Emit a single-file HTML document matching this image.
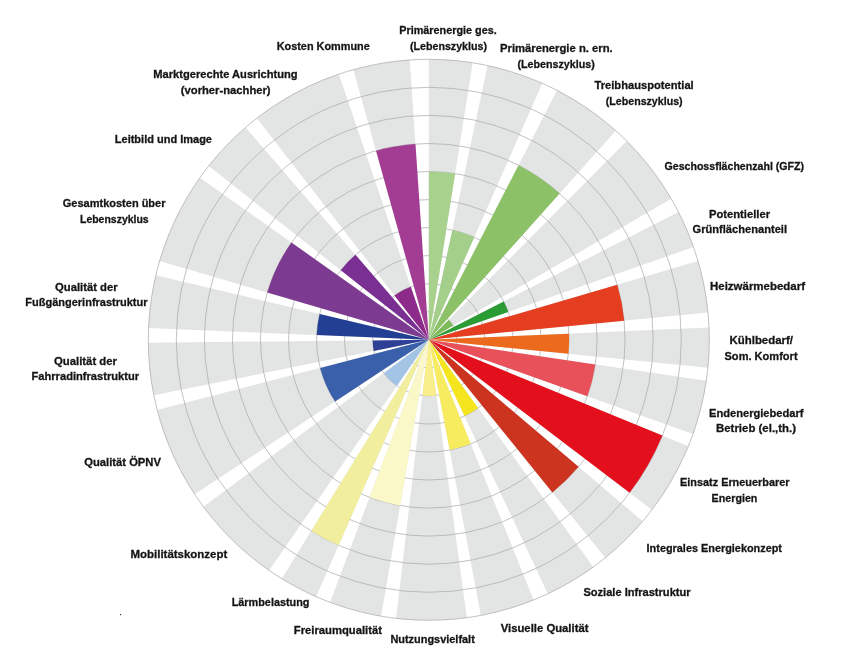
<!DOCTYPE html>
<html><head><meta charset="utf-8"><title>Chart</title>
<style>html,body{margin:0;padding:0;background:#fff;}body{width:851px;height:665px;overflow:hidden;}svg{display:block;}text{font-family:"Liberation Sans",sans-serif;font-weight:bold;font-size:11.6px;fill:#141414;stroke:#141414;stroke-width:0.3px;}</style></head><body>
<svg width="851" height="665" viewBox="0 0 851 665">
<rect width="851" height="665" fill="#fff"/>
<g fill="#e3e4e4">
<path d="M428.80,339.80L428.80,59.30A280.50,280.50 0 0 1 472.68,62.75Z"/>
<path d="M428.80,339.80L487.60,65.53A280.50,280.50 0 0 1 542.44,83.35Z"/>
<path d="M428.80,339.80L557.02,90.32A280.50,280.50 0 0 1 615.76,130.69Z"/>
<path d="M428.80,339.80L626.80,141.11A280.50,280.50 0 0 1 671.23,198.70Z"/>
<path d="M428.80,339.80L678.50,212.02A280.50,280.50 0 0 1 693.54,247.09Z"/>
<path d="M428.80,339.80L698.03,261.07A280.50,280.50 0 0 1 707.96,312.43Z"/>
<path d="M428.80,339.80L709.03,327.56A280.50,280.50 0 0 1 707.91,367.66Z"/>
<path d="M428.80,339.80L706.29,380.78A280.50,280.50 0 0 1 693.05,433.89Z"/>
<path d="M428.80,339.80L688.32,446.24A280.50,280.50 0 0 1 651.93,509.78Z"/>
<path d="M428.80,339.80L642.73,521.22A280.50,280.50 0 0 1 605.32,557.79Z"/>
<path d="M428.80,339.80L593.28,567.02A280.50,280.50 0 0 1 547.79,593.81Z"/>
<path d="M428.80,339.80L533.65,599.97A280.50,280.50 0 0 1 480.88,615.42Z"/>
<path d="M428.80,339.80L466.87,617.70A280.50,280.50 0 0 1 396.07,618.38Z"/>
<path d="M428.80,339.80L381.06,616.21A280.50,280.50 0 0 1 330.11,602.36Z"/>
<path d="M428.80,339.80L316.05,596.64A280.50,280.50 0 0 1 281.82,578.71Z"/>
<path d="M428.80,339.80L269.12,570.41A280.50,280.50 0 0 1 203.32,506.65Z"/>
<path d="M428.80,339.80L194.63,494.21A280.50,280.50 0 0 1 157.23,410.03Z"/>
<path d="M428.80,339.80L153.83,395.24A280.50,280.50 0 0 1 148.32,342.74Z"/>
<path d="M428.80,339.80L148.55,328.05A280.50,280.50 0 0 1 155.82,275.27Z"/>
<path d="M428.80,339.80L159.57,261.07A280.50,280.50 0 0 1 199.87,177.71Z"/>
<path d="M428.80,339.80L208.67,165.95A280.50,280.50 0 0 1 245.52,127.46Z"/>
<path d="M428.80,339.80L256.88,118.16A280.50,280.50 0 0 1 338.87,74.11Z"/>
<path d="M428.80,339.80L353.37,69.63A280.50,280.50 0 0 1 409.72,59.95Z"/>
</g>
<g fill="none" stroke="#a8a8a8" stroke-width="0.7">
<circle cx="428.8" cy="339.8" r="28.1"/>
<circle cx="428.8" cy="339.8" r="56.1"/>
<circle cx="428.8" cy="339.8" r="84.2"/>
<circle cx="428.8" cy="339.8" r="112.2"/>
<circle cx="428.8" cy="339.8" r="140.2"/>
<circle cx="428.8" cy="339.8" r="168.3"/>
<circle cx="428.8" cy="339.8" r="196.3"/>
<circle cx="428.8" cy="339.8" r="224.4"/>
<circle cx="428.8" cy="339.8" r="252.5"/>
<circle cx="428.8" cy="339.8" r="280.5"/>
</g>
<g>
<path d="M428.80,339.80L428.80,171.50A168.30,168.30 0 0 1 455.13,173.57Z" fill="#a9d18e"/>
<path d="M428.80,339.80L452.32,230.09A112.20,112.20 0 0 1 474.26,237.22Z" fill="#a3cf8a"/>
<path d="M428.80,339.80L518.55,165.16A196.35,196.35 0 0 1 559.67,193.43Z" fill="#8cc168"/>
<path d="M428.80,339.80L448.60,319.93A28.05,28.05 0 0 1 453.04,325.69Z" fill="#7dba5a"/>
<path d="M428.80,339.80L503.71,301.47A84.15,84.15 0 0 1 508.22,311.99Z" fill="#2b9b34"/>
<path d="M428.80,339.80L617.26,284.69A196.35,196.35 0 0 1 624.21,320.64Z" fill="#e43d20"/>
<path d="M428.80,339.80L568.92,333.68A140.25,140.25 0 0 1 568.36,353.73Z" fill="#ec6a1e"/>
<path d="M428.80,339.80L595.29,364.39A168.30,168.30 0 0 1 587.35,396.26Z" fill="#e8505a"/>
<path d="M428.80,339.80L662.37,435.59A252.45,252.45 0 0 1 629.62,492.78Z" fill="#e30f1c"/>
<path d="M428.80,339.80L578.55,466.80A196.35,196.35 0 0 1 552.37,492.39Z" fill="#cc3420"/>
<path d="M428.80,339.80L478.14,407.97A84.15,84.15 0 0 1 464.50,416.00Z" fill="#f5e51e"/>
<path d="M428.80,339.80L470.74,443.87A112.20,112.20 0 0 1 449.63,450.05Z" fill="#f7ec60"/>
<path d="M428.80,339.80L436.41,395.38A56.10,56.10 0 0 1 422.25,395.52Z" fill="#f8ee8c"/>
<path d="M428.80,339.80L400.15,505.64A168.30,168.30 0 0 1 369.59,497.34Z" fill="#faf7c8"/>
<path d="M428.80,339.80L338.60,545.27A224.40,224.40 0 0 1 311.22,530.93Z" fill="#f1ee9e"/>
<path d="M428.80,339.80L396.86,385.92A56.10,56.10 0 0 1 383.70,373.17Z" fill="#a4c4e6"/>
<path d="M428.80,339.80L335.13,401.56A112.20,112.20 0 0 1 320.17,367.89Z" fill="#3a5fab"/>
<path d="M428.80,339.80L373.81,350.89A56.10,56.10 0 0 1 372.70,340.39Z" fill="#2e3f96"/>
<path d="M428.80,339.80L316.70,335.10A112.20,112.20 0 0 1 319.61,313.99Z" fill="#233f94"/>
<path d="M428.80,339.80L267.26,292.56A168.30,168.30 0 0 1 291.44,242.55Z" fill="#7c3a90"/>
<path d="M428.80,339.80L340.75,270.26A112.20,112.20 0 0 1 355.49,254.87Z" fill="#7a3092"/>
<path d="M428.80,339.80L394.42,295.47A56.10,56.10 0 0 1 410.81,286.66Z" fill="#8d2b8a"/>
<path d="M428.80,339.80L376.00,150.68A196.35,196.35 0 0 1 415.45,143.90Z" fill="#a33d94"/>
</g>
<g style="filter:grayscale(1)">
<text x="399.2" y="33.8" textLength="97.6" lengthAdjust="spacingAndGlyphs">Primärenergie ges.</text>
<text x="410" y="49.8" textLength="77.0" lengthAdjust="spacingAndGlyphs">(Lebenszyklus)</text>
<text x="500" y="51.8" textLength="112.7" lengthAdjust="spacingAndGlyphs">Primärenergie n. ern.</text>
<text x="517.5" y="67.8" textLength="77.3" lengthAdjust="spacingAndGlyphs">(Lebenszyklus)</text>
<text x="594.5" y="89.4" textLength="99.2" lengthAdjust="spacingAndGlyphs">Treibhauspotential</text>
<text x="605.8" y="104.8" textLength="76.8" lengthAdjust="spacingAndGlyphs">(Lebenszyklus)</text>
<text x="664.5" y="169.6" textLength="139.5" lengthAdjust="spacingAndGlyphs">Geschossflächenzahl (GFZ)</text>
<text x="709" y="217.7" textLength="61.0" lengthAdjust="spacingAndGlyphs">Potentieller</text>
<text x="692.5" y="233.2" textLength="94.5" lengthAdjust="spacingAndGlyphs">Grünflächenanteil</text>
<text x="710" y="289.7" textLength="95.0" lengthAdjust="spacingAndGlyphs">Heizwärmebedarf</text>
<text x="729.5" y="344.1" textLength="63.5" lengthAdjust="spacingAndGlyphs">Kühlbedarf/</text>
<text x="724.5" y="359.5" textLength="73.1" lengthAdjust="spacingAndGlyphs">Som. Komfort</text>
<text x="709" y="416.8" textLength="94.5" lengthAdjust="spacingAndGlyphs">Endenergiebedarf</text>
<text x="716" y="431.9" textLength="80.0" lengthAdjust="spacingAndGlyphs">Betrieb (el.,th.)</text>
<text x="680" y="486.3" textLength="109.5" lengthAdjust="spacingAndGlyphs">Einsatz Erneuerbarer</text>
<text x="711.6" y="502.2" textLength="45.8" lengthAdjust="spacingAndGlyphs">Energien</text>
<text x="646.6" y="551.6" textLength="135.4" lengthAdjust="spacingAndGlyphs">Integrales Energiekonzept</text>
<text x="583.4" y="595.9" textLength="107.2" lengthAdjust="spacingAndGlyphs">Soziale Infrastruktur</text>
<text x="500.7" y="632.0" textLength="87.8" lengthAdjust="spacingAndGlyphs">Visuelle Qualität</text>
<text x="390.4" y="643.0" textLength="84.4" lengthAdjust="spacingAndGlyphs">Nutzungsvielfalt</text>
<text x="293.8" y="634.4" textLength="88.2" lengthAdjust="spacingAndGlyphs">Freiraumqualität</text>
<text x="231.7" y="605.8" textLength="77.8" lengthAdjust="spacingAndGlyphs">Lärmbelastung</text>
<text x="130.5" y="557.8" textLength="96.7" lengthAdjust="spacingAndGlyphs">Mobilitätskonzept</text>
<text x="84.2" y="466.4" textLength="76.8" lengthAdjust="spacingAndGlyphs">Qualität ÖPNV</text>
<text x="54" y="364.7" textLength="63.0" lengthAdjust="spacingAndGlyphs">Qualität der</text>
<text x="31.5" y="380.2" textLength="107.6" lengthAdjust="spacingAndGlyphs">Fahrradinfrastruktur</text>
<text x="55" y="290.5" textLength="62.6" lengthAdjust="spacingAndGlyphs">Qualität der</text>
<text x="25.3" y="305.9" textLength="122.2" lengthAdjust="spacingAndGlyphs">Fußgängerinfrastruktur</text>
<text x="62.8" y="206.8" textLength="102.7" lengthAdjust="spacingAndGlyphs">Gesamtkosten über</text>
<text x="80" y="223.2" textLength="68.7" lengthAdjust="spacingAndGlyphs">Lebenszyklus</text>
<text x="114.8" y="143.0" textLength="97.2" lengthAdjust="spacingAndGlyphs">Leitbild und Image</text>
<text x="153.3" y="78.4" textLength="144.3" lengthAdjust="spacingAndGlyphs">Marktgerechte Ausrichtung</text>
<text x="180.8" y="93.8" textLength="89.8" lengthAdjust="spacingAndGlyphs">(vorher-nachher)</text>
<text x="276.7" y="49.8" textLength="93.1" lengthAdjust="spacingAndGlyphs">Kosten Kommune</text>
</g>
<rect x="120" y="614" width="1.2" height="1.2" fill="#333"/>
</svg></body></html>
